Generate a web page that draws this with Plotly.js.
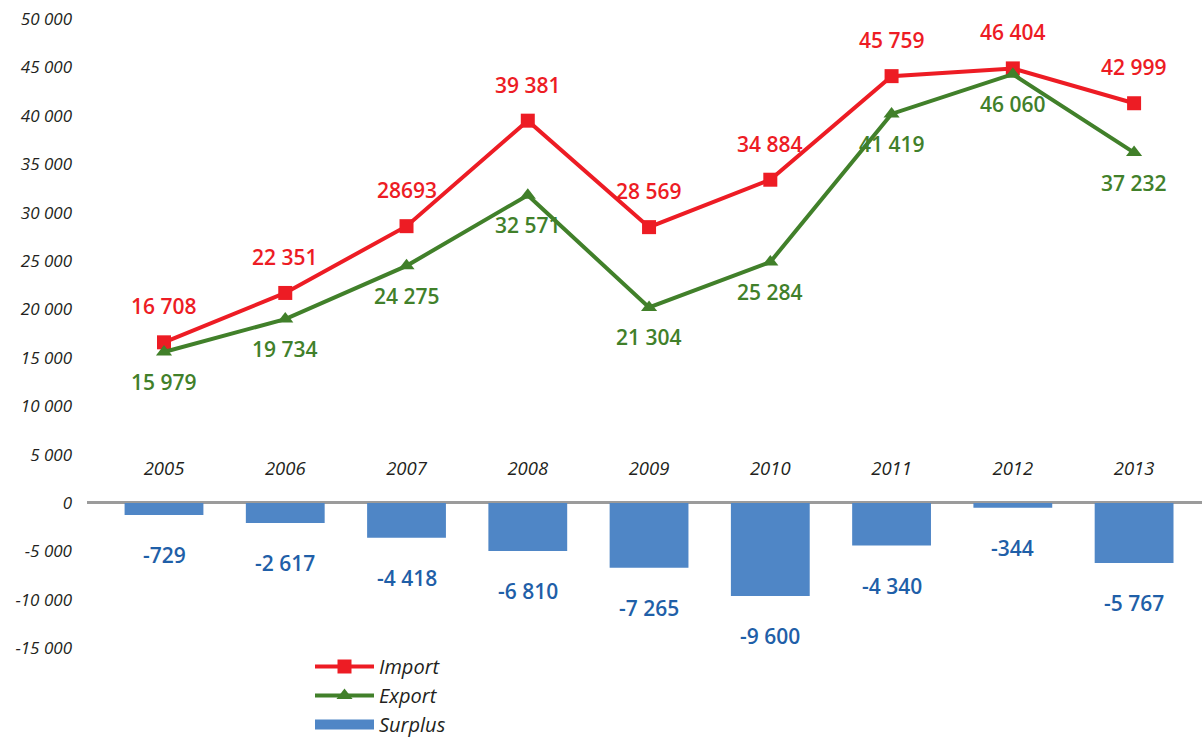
<!DOCTYPE html>
<html>
<head>
<meta charset="utf-8">
<script src="https://cdn.plot.ly/plotly-3.0.1.min.js"></script>
<style>
  html, body { margin: 0; padding: 0; background: #fff; }
  #chart { width: 1202px; height: 744px; }
</style>
</head>
<body>
<div id="chart"></div>
<script>
// Données
const years = ['2005', '2006', '2007', '2008', '2009', '2010', '2011', '2012', '2013'];

// positions des points telles que dessinées
const importVals = [16600, 21700, 28600, 39500, 28500, 33400, 44100, 44900, 41300];
const exportVals = [15600, 19000, 24500, 31800, 20200, 24900, 40200, 44300, 36200];
const surplusVals = [-1240, -2070, -3600, -4960, -6700, -9600, -4400, -500, -6200];

// étiquettes imprimées
const importLabels = ['16 708', '22 351', '28693', '39 381', '28 569', '34 884', '45 759', '46 404', '42 999'];
const exportLabels = ['15 979', '19 734', '24 275', '32 571', '21 304', '25 284', '41 419', '46 060', '37 232'];
const surplusLabels = ['-729', '-2 617', '-4 418', '-6 810', '-7 265', '-9 600', '-4 340', '-344', '-5 767'];

const yTicks = [50000, 45000, 40000, 35000, 30000, 25000, 20000, 15000, 10000, 5000, 0, -5000, -10000, -15000];

const COLORS = { red: '#ed1c24', green: '#41802a', bar: '#4f86c6', barText: '#1f5fa8', axis: '#231f20', zero: '#9b9b9b' };
const LABEL_FONT = "'Open Sans', 'Noto Sans', sans-serif";

function fmt(v) {
    const s = String(Math.abs(v)).replace(/\B(?=(\d{3})+(?!\d))/g, ' ');
    return (v < 0 ? '-' : '') + s;
}

const traces = [
    {
        type: 'bar', name: 'Surplus', x: years, y: surplusVals, showlegend: false,
        marker: { color: COLORS.bar }, width: 0.65, hoverinfo: 'skip'
    },
    {
        type: 'scatter', mode: 'lines+markers', name: 'Import', x: years, y: importVals, legendrank: 1,
        line: { color: COLORS.red, width: 4 },
        marker: { symbol: 'square', size: 14, color: COLORS.red }
    },
    {
        type: 'scatter', mode: 'lines+markers', name: 'Export', x: years, y: exportVals, legendrank: 2,
        line: { color: COLORS.green, width: 4 },
        marker: { symbol: 'triangle-up', size: 14, color: COLORS.green }
    },
    // entrée de légende seule : rectangle large comme dans l'original
    {
        type: 'scatter', mode: 'lines', name: 'Surplus', x: [null], y: [null], legendrank: 3,
        line: { color: COLORS.bar, width: 14 }, hoverinfo: 'skip'
    }
];

// x en index : les noms de catégorie numériques seraient pris pour des index
const annotations = [];
years.forEach((yr, i) => {
    annotations.push({ x: i, y: importVals[i], text: importLabels[i], showarrow: false, yshift: 36,
        font: { family: LABEL_FONT, size: 21, color: COLORS.red, weight: 600 } });
    annotations.push({ x: i, y: exportVals[i], text: exportLabels[i], showarrow: false, yshift: -30,
        font: { family: LABEL_FONT, size: 21, color: COLORS.green, weight: 600 } });
    annotations.push({ x: i, y: surplusVals[i], text: surplusLabels[i], showarrow: false, yshift: -40,
        font: { family: LABEL_FONT, size: 21, color: COLORS.barText, weight: 600 } });
});

const layout = {
    width: 1202, height: 744,
    margin: { l: 87, r: 0, t: 5, b: 0 },
    paper_bgcolor: '#fff', plot_bgcolor: '#fff',
    font: { family: "'Open Sans', sans-serif", color: COLORS.axis },
    showlegend: true,
    legend: {
        x: 0.2, y: 0, xanchor: 'left', yanchor: 'bottom',
        traceorder: 'normal', tracegroupgap: 0, bgcolor: 'rgba(0,0,0,0)',
        font: { size: 20, style: 'italic', color: COLORS.axis },
        itemwidth: 59
    },
    xaxis: {
        type: 'category', range: [-0.635, 8.56], automargin: false,
        anchor: 'free', position: 0.391,
        showline: false, showgrid: false, zeroline: false, ticks: '',
        tickfont: { size: 18.5, style: 'italic', color: COLORS.axis }
    },
    yaxis: {
        range: [-24900, 51450], automargin: false,
        tickvals: yTicks, ticktext: yTicks.map(fmt),
        showgrid: false, showline: false, ticks: '',
        zeroline: true, zerolinecolor: COLORS.zero, zerolinewidth: 3,
        tickfont: { size: 17, style: 'italic', color: COLORS.axis },
        ticklabelstandoff: 14
    },
    annotations: annotations
};

Plotly.newPlot('chart', traces, layout, { displayModeBar: false, staticPlot: true });
</script>
</body>
</html>
